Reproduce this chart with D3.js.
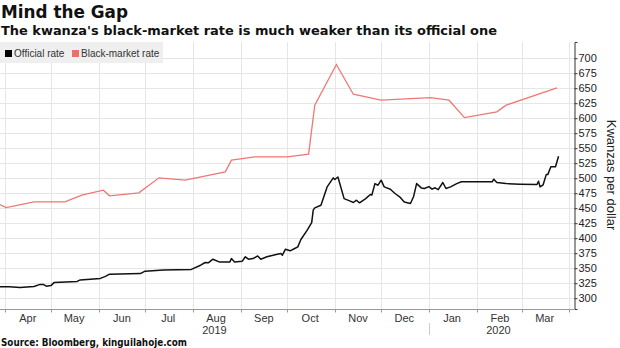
<!DOCTYPE html>
<html>
<head>
<meta charset="utf-8">
<script src="https://cdn.jsdelivr.net/npm/d3@7"></script>
<style>
  html, body { margin: 0; padding: 0; background: #fff; }
  svg { display: block; }
</style>
</head>
<body>
<svg id="chart" width="620" height="348"></svg>
<script>
// ---------- DATA ----------
const titleText = "Mind the Gap";
const subtitleText = "The kwanza's black-market rate is much weaker than its official one";
const sourceText = "Source: Bloomberg, kinguilahoje.com";
const yAxisTitle = "Kwanzas per dollar";
const seriesNames = ["Official rate", "Black-market rate"];

const officialDates = ["2019-03-29","2019-04-04","2019-04-11","2019-04-20","2019-04-24","2019-04-26","2019-04-28","2019-05-01","2019-05-03","2019-05-18","2019-05-20","2019-06-02","2019-06-05","2019-06-08","2019-06-28","2019-07-01","2019-07-13","2019-07-31","2019-08-06","2019-08-09","2019-08-11","2019-08-14","2019-08-18","2019-08-25","2019-08-26","2019-08-28","2019-09-02","2019-09-04","2019-09-06","2019-09-09","2019-09-12","2019-09-14","2019-09-18","2019-09-24","2019-09-27","2019-09-28","2019-09-30","2019-10-03","2019-10-06","2019-10-08","2019-10-10","2019-10-14","2019-10-17","2019-10-18","2019-10-19","2019-10-23","2019-10-27","2019-10-31","2019-11-01","2019-11-03","2019-11-07","2019-11-11","2019-11-13","2019-11-15","2019-11-17","2019-11-21","2019-11-24","2019-11-25","2019-11-27","2019-11-29","2019-12-01","2019-12-03","2019-12-07","2019-12-10","2019-12-13","2019-12-16","2019-12-20","2019-12-22","2019-12-24","2019-12-27","2019-12-29","2020-01-01","2020-01-03","2020-01-05","2020-01-07","2020-01-10","2020-01-12","2020-01-15","2020-01-19","2020-01-22","2020-02-11","2020-02-12","2020-02-14","2020-02-20","2020-02-29","2020-03-11","2020-03-12","2020-03-13","2020-03-15","2020-03-17","2020-03-18","2020-03-20","2020-03-23","2020-03-25"];
const officialValues = [319,319,318,319.5,323,323,320,321,326,328,330.5,333,336,340,341,345,347,348,355,359.5,359,365,360.5,360.5,366,360.5,361.7,369,365,366,370.5,365,369,373,374.5,371.7,381.7,379,382.8,385.5,397.8,413,426,446.7,450.5,455,485.5,500.5,497.8,502,466,461.7,459.5,463.3,459,466,472.8,472,491,488.3,496.7,485.5,481.7,474.5,469,460.5,457.8,469,491,483.8,482.8,486,481.7,484,481,492.8,482.8,485.5,491,494,494,498.3,492.8,491,490,489.4,495,485.5,489,506,506,519,519,536.7];

const blackMarketDates = ["2019-03-29","2019-04-02","2019-04-20","2019-05-10","2019-05-21","2019-06-04","2019-06-08","2019-06-27","2019-07-10","2019-07-27","2019-08-22","2019-08-26","2019-09-10","2019-10-01","2019-10-15","2019-10-19","2019-11-02","2019-11-13","2019-12-01","2020-01-02","2020-01-14","2020-01-24","2020-02-14","2020-02-20","2020-03-24"];
const blackMarketValues = [456,451,460.5,460.5,471.7,480,470.6,475.6,500.6,496.7,510.6,530,535.6,535.6,540,621.7,689.5,640,630,634.4,630,601,610.6,621.7,650.6];

const yTicks = [300,325,350,375,400,425,450,475,500,525,550,575,600,625,650,675,700];
const monthLabels = ["Apr","May","Jun","Jul","Aug","Sep","Oct","Nov","Dec","Jan","Feb","Mar"];
const yearLabels = ["2019","2020"];

// ---------- CHART ----------
const parse = d3.timeParse("%Y-%m-%d");
const official = officialDates.map((d, i) => ({date: parse(d), value: officialValues[i]}));
const blackMarket = blackMarketDates.map((d, i) => ({date: parse(d), value: blackMarketValues[i]}));

const svg = d3.select("#chart");
const plotLeft = 0, plotRight = 574, plotTop = 42, plotBottom = 309;

const x = d3.scaleTime()
  .domain([parse("2019-03-29"), parse("2020-04-04")])
  .range([plotLeft, plotRight]);
const y = d3.scaleLinear().domain([282, 727]).range([plotBottom, plotTop]);

svg.append("rect").attr("width", 620).attr("height", 348).attr("fill", "#fff");

// Titles
svg.append("text").text(titleText)
  .attr("x", 1).attr("y", 18)
  .attr("font-family", "DejaVu Sans").attr("font-weight", "bold")
  .attr("font-size", 17).attr("fill", "#111")
  .attr("textLength", 127).attr("lengthAdjust", "spacingAndGlyphs");
svg.append("text").text(subtitleText)
  .attr("x", 1).attr("y", 35)
  .attr("font-family", "DejaVu Sans").attr("font-weight", "bold")
  .attr("font-size", 12).attr("fill", "#111")
  .attr("textLength", 496).attr("lengthAdjust", "spacingAndGlyphs");

// Gridlines
const monthStarts = d3.timeMonth.range(parse("2019-04-01"), parse("2020-04-02"));
const grid = svg.append("g").attr("stroke", "#e6e6e6").attr("stroke-width", 1);
grid.selectAll("line.h").data(yTicks).join("line")
  .attr("x1", plotLeft).attr("x2", plotRight)
  .attr("y1", d => Math.round(y(d)) + 0.5).attr("y2", d => Math.round(y(d)) + 0.5);
grid.selectAll("line.v").data(monthStarts).join("line")
  .attr("x1", d => Math.round(x(d)) + 0.5).attr("x2", d => Math.round(x(d)) + 0.5)
  .attr("y1", plotTop).attr("y2", plotBottom);

// Legend
const lg = svg.append("g");
lg.append("rect").attr("x", 0).attr("y", 42).attr("width", 163).attr("height", 21).attr("fill", "#efefef");
lg.append("rect").attr("x", 5).attr("y", 50).attr("width", 7).attr("height", 7).attr("fill", "#000");
lg.append("text").text(seriesNames[0]).attr("x", 14).attr("y", 57)
  .attr("font-family", "Liberation Sans").attr("font-size", 10).attr("fill", "#333");
lg.append("rect").attr("x", 72).attr("y", 50).attr("width", 7).attr("height", 7).attr("fill", "#ec6f6b");
lg.append("text").text(seriesNames[1]).attr("x", 81).attr("y", 57)
  .attr("font-family", "Liberation Sans").attr("font-size", 10).attr("fill", "#333");

// Lines
const line = d3.line().x(d => x(d.date)).y(d => y(d.value));
svg.append("path").datum(blackMarket).attr("d", line)
  .attr("fill", "none").attr("stroke", "#ee7874").attr("stroke-width", 1.3);
svg.append("path").datum(official).attr("d", line)
  .attr("fill", "none").attr("stroke", "#111").attr("stroke-width", 1.5)
  .attr("stroke-linejoin", "round");

// Y axis (right)
const yAxis = svg.append("g").attr("transform", `translate(${plotRight + 0.5},0)`)
  .call(d3.axisRight(y).tickValues(yTicks).tickSize(3).tickSizeOuter(3).tickFormat(d3.format("d")));
yAxis.select(".domain").attr("stroke", "#333");
yAxis.selectAll(".tick line").attr("stroke", "#333");
yAxis.selectAll(".tick text").attr("x", 4)
  .attr("font-family", "Liberation Sans").attr("font-size", 11).attr("fill", "#222");

svg.append("text").text(yAxisTitle)
  .attr("transform", "translate(607,175) rotate(90)")
  .attr("text-anchor", "middle")
  .attr("font-family", "Liberation Sans").attr("font-size", 13).attr("fill", "#222");

// X axis
const xg = svg.append("g");
xg.append("line").attr("x1", plotLeft).attr("x2", plotRight + 0.5)
  .attr("y1", plotBottom + 0.5).attr("y2", plotBottom + 0.5)
  .attr("stroke", "#999");
xg.selectAll("line.tick").data(monthStarts).join("line")
  .attr("x1", d => Math.round(x(d)) + 0.5).attr("x2", d => Math.round(x(d)) + 0.5)
  .attr("y1", plotBottom).attr("y2", plotBottom + 3.5)
  .attr("stroke", "#999");
const monthMids = monthStarts.slice(0, 12).map(d => d3.timeDay.offset(d, 15));
xg.selectAll("text.month").data(monthMids).join("text")
  .text((d, i) => monthLabels[i])
  .attr("x", d => x(d)).attr("y", 322)
  .attr("text-anchor", "middle")
  .attr("font-family", "Liberation Sans").attr("font-size", 11).attr("fill", "#333");
const yearPos = [parse("2019-08-15"), parse("2020-02-15")];
xg.selectAll("text.year").data(yearPos).join("text")
  .text((d, i) => yearLabels[i])
  .attr("x", d => x(d)).attr("y", 334)
  .attr("text-anchor", "middle")
  .attr("font-family", "Liberation Sans").attr("font-size", 11).attr("fill", "#333");
xg.append("line")
  .attr("x1", Math.round(x(parse("2020-01-01"))) + 0.5).attr("x2", Math.round(x(parse("2020-01-01"))) + 0.5)
  .attr("y1", 323).attr("y2", 335).attr("stroke", "#ccc");

// Source
svg.append("text").text(sourceText)
  .attr("x", 1).attr("y", 346)
  .attr("font-family", "DejaVu Sans").attr("font-weight", "bold")
  .attr("font-size", 10).attr("fill", "#111")
  .attr("textLength", 186).attr("lengthAdjust", "spacingAndGlyphs");
</script>
</body>
</html>
